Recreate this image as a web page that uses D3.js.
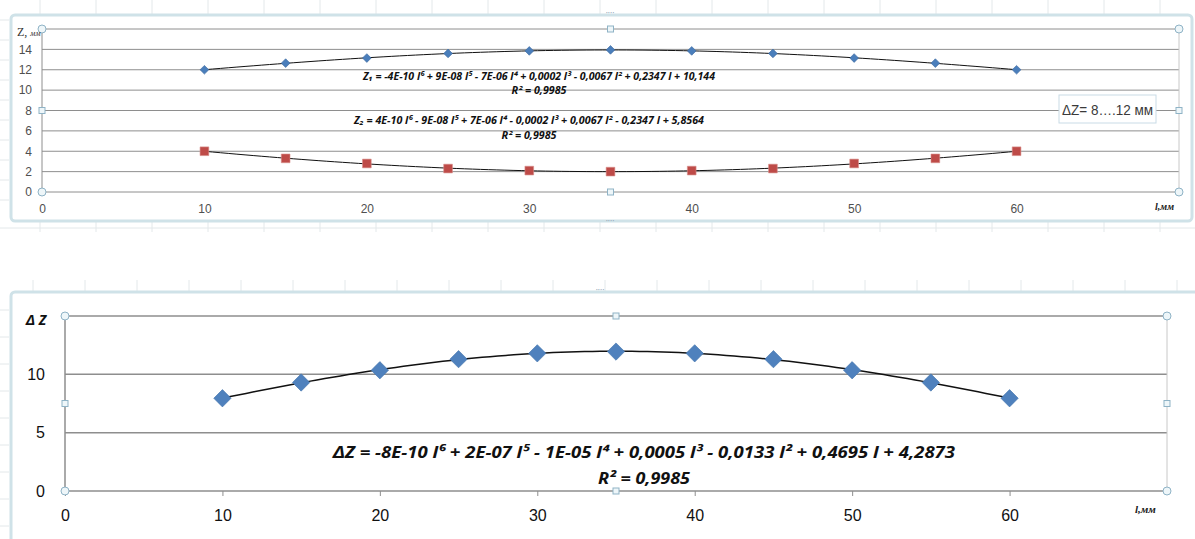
<!DOCTYPE html>
<html lang="ru">
<head>
<meta charset="UTF-8">
<title>Z1, Z2 и ΔZ</title>
<style>
  body, html { margin: 0; padding: 0; background: #fff; overflow: hidden; }
  svg { display: block; font-family: "Noto Sans", "Open Sans", sans-serif; }
  .grid line { stroke: #8e8e8e; }
  .eq { font-weight: bold; font-style: italic; fill: #111; }
  .handle { fill: #eef6f9; stroke: #8fb3c6; stroke-width: 1; }
</style>
</head>
<body>
<svg id="chart" width="1195" height="539"></svg>
<script src="https://d3js.org/d3.v7.min.js"></script>
<script>
// data
const lengths = [10, 15, 20, 25, 30, 35, 40, 45, 50, 55, 60];
const z1 = [12.0, 12.65, 13.15, 13.6, 13.85, 13.95, 13.85, 13.6, 13.15, 12.65, 12.0];
const z2 = [4.0, 3.3, 2.8, 2.3, 2.1, 2.0, 2.1, 2.3, 2.8, 3.3, 4.0];
const dz = [7.95, 9.3, 10.35, 11.3, 11.8, 11.95, 11.8, 11.3, 10.35, 9.3, 7.95];
const xTicks = [0, 10, 20, 30, 40, 50, 60];
const topYTicks = [0, 2, 4, 6, 8, 10, 12, 14, 16];
const topYLabels = [0, 2, 4, 6, 8, 10, 12, 14];
const botYTicks = [0, 5, 10, 15];
const botYLabels = [0, 5, 10];
const eqZ1 = "Z₁ = -4E-10 l⁶ + 9E-08 l⁵ - 7E-06 l⁴ + 0,0002 l³ - 0,0067 l² + 0,2347 l + 10,144";
const eqZ2 = "Z₂  = 4E-10 l⁶ - 9E-08 l⁵ + 7E-06 l⁴ - 0,0002 l³ + 0,0067 l² - 0,2347 l + 5,8564";
const eqDZ = "ΔZ = -8E-10 l⁶ + 2E-07 l⁵ - 1E-05 l⁴ + 0,0005 l³ - 0,0133 l² + 0,4695 l + 4,2873";
const r2 = "R² = 0,9985";
const rangeNote = "ΔZ= 8….12 мм";

const svg = d3.select("#chart");

// least squares polynomial, x scaled to keep the matrix sane
function polyfit(xs, ys, deg) {
  const c = d3.mean(xs), s = (d3.max(xs) - d3.min(xs)) / 2;
  const n = deg + 1;
  const A = Array.from({length: n}, () => new Array(n + 1).fill(0));
  xs.forEach((x, k) => {
    const t = (x - c) / s;
    for (let i = 0; i < n; i++) {
      for (let j = 0; j < n; j++) A[i][j] += Math.pow(t, i + j);
      A[i][n] += ys[k] * Math.pow(t, i);
    }
  });
  for (let i = 0; i < n; i++) {
    let p = i;
    for (let r = i + 1; r < n; r++) if (Math.abs(A[r][i]) > Math.abs(A[p][i])) p = r;
    [A[i], A[p]] = [A[p], A[i]];
    for (let r = 0; r < n; r++) {
      if (r === i) continue;
      const f = A[r][i] / A[i][i];
      for (let j = i; j <= n; j++) A[r][j] -= f * A[i][j];
    }
  }
  const coef = A.map((row, i) => row[n] / row[i]);
  return x => { const t = (x - c) / s; return coef.reduce((acc, a, i) => acc + a * Math.pow(t, i), 0); };
}

// spreadsheet background lines
const bg = svg.append("g").attr("stroke", "#e3e8ea").attr("stroke-width", 1);
d3.range(40, 1195, 56).forEach(x => {
  bg.append("line").attr("x1", x).attr("x2", x).attr("y1", 0).attr("y2", 14);
  bg.append("line").attr("x1", x).attr("x2", x).attr("y1", 222).attr("y2", 232);
});
d3.range(33, 1195, 52).forEach(x => {
  bg.append("line").attr("x1", x).attr("x2", x).attr("y1", 280).attr("y2", 291);
});
bg.append("line").attr("x1", 0).attr("x2", 1195).attr("y1", 228).attr("y2", 228);
d3.range(20, 220, 20).forEach(y => bg.append("line").attr("x1", 0).attr("x2", 9).attr("y1", y).attr("y2", y));
d3.range(310, 539, 27).forEach(y => bg.append("line").attr("x1", 0).attr("x2", 9).attr("y1", y).attr("y2", y));

// chart frames
svg.append("rect").attr("x", 11).attr("y", 15).attr("width", 1181).attr("height", 206)
  .attr("rx", 4).attr("fill", "#fff").attr("stroke", "#cfe2e8").attr("stroke-width", 3);
svg.append("rect").attr("x", 11).attr("y", 292).attr("width", 1200).attr("height", 260)
  .attr("rx", 4).attr("fill", "#fff").attr("stroke", "#cfe2e8").attr("stroke-width", 3);
[[610, 14], [610, 222], [600, 291]].forEach(([x, y]) =>
  svg.append("text").attr("x", x).attr("y", y + 2).attr("text-anchor", "middle")
    .attr("font-size", 8).attr("fill", "#9ab").text("····"));

function drawPanel(o) {
  const x = d3.scaleLinear().domain([0, 70]).range(o.xr);
  const y = d3.scaleLinear().domain(o.yDomain).range(o.yr);
  const g = svg.append("g");

  g.append("g").attr("class", "grid").selectAll("line").data(o.yTicks).join("line")
    .attr("x1", o.xr[0]).attr("x2", o.xr[1])
    .attr("y1", d => y(d)).attr("y2", d => y(d))
    .attr("stroke-width", o.gridW);
  // plot edges
  g.append("line").attr("x1", o.xr[0]).attr("x2", o.xr[0]).attr("y1", o.yr[0]).attr("y2", o.yr[1])
    .attr("stroke", "#8e8e8e").attr("stroke-width", o.gridW);
  g.append("line").attr("x1", o.xr[1]).attr("x2", o.xr[1]).attr("y1", o.yr[0]).attr("y2", o.yr[1])
    .attr("stroke", "#c8c8c8").attr("stroke-width", 1);

  const xAxis = g.append("g").attr("transform", `translate(0,${o.yr[0]})`)
    .call(d3.axisBottom(x).tickValues(xTicks).tickSize(o.tick).tickPadding(o.xPad).tickFormat(d3.format("d")));
  xAxis.select(".domain").remove();
  xAxis.selectAll("line").attr("stroke", "#8e8e8e");
  xAxis.selectAll("text").attr("font-size", o.fs).attr("fill", o.labelColor).attr("font-family", "inherit");

  const yAxis = g.append("g").attr("transform", `translate(${o.xr[0]},0)`)
    .call(d3.axisLeft(y).tickValues(o.yLabels).tickSize(0).tickPadding(o.yPad).tickFormat(d3.format("d")));
  yAxis.select(".domain").remove();
  yAxis.selectAll("text").attr("font-size", o.fs).attr("fill", o.labelColor).attr("font-family", "inherit");

  // handles of the selected plot area
  const xm = (o.xr[0] + o.xr[1]) / 2, ym = (o.yr[0] + o.yr[1]) / 2;
  [[o.xr[0], o.yr[1]], [o.xr[1], o.yr[1]], [o.xr[0], o.yr[0]], [o.xr[1], o.yr[0]]].forEach(([cx, cy]) =>
    g.append("circle").attr("class", "handle").attr("cx", cx).attr("cy", cy).attr("r", 4));
  [[xm, o.yr[1]], [xm, o.yr[0]], [o.xr[0], ym], [o.xr[1], ym]].forEach(([cx, cy]) =>
    g.append("rect").attr("class", "handle").attr("x", cx - 3).attr("y", cy - 3).attr("width", 6).attr("height", 6));

  o.series.forEach(s => {
    const fit = polyfit(lengths, s.values, 4);
    const pts = d3.range(lengths[0], lengths[lengths.length - 1] + 0.01, 0.5);
    g.append("path").datum(pts)
      .attr("fill", "none").attr("stroke", "#111").attr("stroke-width", o.lineW)
      .attr("d", d3.line().x(d => x(d)).y(d => y(fit(d))));
    g.append("g").selectAll("path").data(s.values).join("path")
      .attr("transform", (d, i) => `translate(${x(lengths[i])},${y(d)}) rotate(${s.rot})`)
      .attr("d", d3.symbol(d3.symbolSquare, s.size)())
      .attr("fill", s.color).attr("stroke", s.stroke).attr("stroke-width", 0.6);
  });
  return {x, y, g};
}

// top panel: Z1 and Z2
const topPanel = drawPanel({
  xr: [42, 1179], yr: [192, 29], yDomain: [0, 16],
  yTicks: topYTicks, yLabels: topYLabels, gridW: 1, lineW: 1, tick: 0, xPad: 12, yPad: 10,
  fs: 12, labelColor: "#4f4f4f",
  series: [
    {values: z1, color: "#4a7ebb", stroke: "#3d6aa0", size: 38, rot: 45},
    {values: z2, color: "#be4b48", stroke: "#d98e8c", size: 76, rot: 0}
  ]
});
topPanel.g.append("text").attr("x", 17).attr("y", 36).attr("fill", "#333")
  .attr("font-family", "Liberation Serif, serif").attr("font-size", 12)
  .html('Z, <tspan font-size="8" font-style="italic">мм</tspan>');
topPanel.g.append("text").attr("x", 1155).attr("y", 210).attr("fill", "#222")
  .attr("font-family", "Liberation Serif, serif").attr("font-size", 10)
  .attr("font-style", "italic").attr("font-weight", "bold").text("l,мм");
[[eqZ1, 539, 80, 352], [r2, 539, 94, 55], [eqZ2, 529, 124, 350], [r2, 529, 139, 55]].forEach(([t, cx, by, w]) =>
  topPanel.g.append("text").attr("class", "eq").attr("x", cx).attr("y", by).attr("text-anchor", "middle")
    .attr("font-size", 10).attr("textLength", w).attr("lengthAdjust", "spacingAndGlyphs").text(t));
topPanel.g.append("rect").attr("x", 1059).attr("y", 95).attr("width", 97).attr("height", 28)
  .attr("fill", "#fff").attr("stroke", "#c9dbe6").attr("stroke-width", 1);
topPanel.g.append("text").attr("x", 1062).attr("y", 115).attr("fill", "#3a3a3a")
  .attr("font-family", "Liberation Sans, sans-serif").attr("font-size", 15)
  .attr("textLength", 91).attr("lengthAdjust", "spacingAndGlyphs").text(rangeNote);

// bottom panel: ΔZ
const botPanel = drawPanel({
  xr: [65, 1167], yr: [491, 316], yDomain: [0, 15],
  yTicks: botYTicks, yLabels: botYLabels, gridW: 1.5, lineW: 1.5, tick: 5, xPad: 14, yPad: 20,
  fs: 16, labelColor: "#111",
  series: [
    {values: dz, color: "#4f81bd", stroke: "#4475ad", size: 150, rot: 45}
  ]
});
botPanel.g.append("text").attr("x", 26).attr("y", 325).attr("fill", "#111")
  .attr("font-size", 14).attr("font-weight", "bold").attr("font-style", "italic").text("Δ Z");
botPanel.g.append("text").attr("x", 1135).attr("y", 513).attr("fill", "#222")
  .attr("font-family", "Liberation Serif, serif").attr("font-size", 11)
  .attr("font-style", "italic").attr("font-weight", "bold").text("l,мм");
botPanel.g.append("text").attr("class", "eq").attr("x", 644).attr("y", 458).attr("text-anchor", "middle")
  .attr("font-size", 16).attr("textLength", 622).attr("lengthAdjust", "spacingAndGlyphs").text(eqDZ);
botPanel.g.append("text").attr("class", "eq").attr("x", 644).attr("y", 484).attr("text-anchor", "middle")
  .attr("font-size", 16).attr("textLength", 92).attr("lengthAdjust", "spacingAndGlyphs").text(r2);
</script>
</body>
</html>
